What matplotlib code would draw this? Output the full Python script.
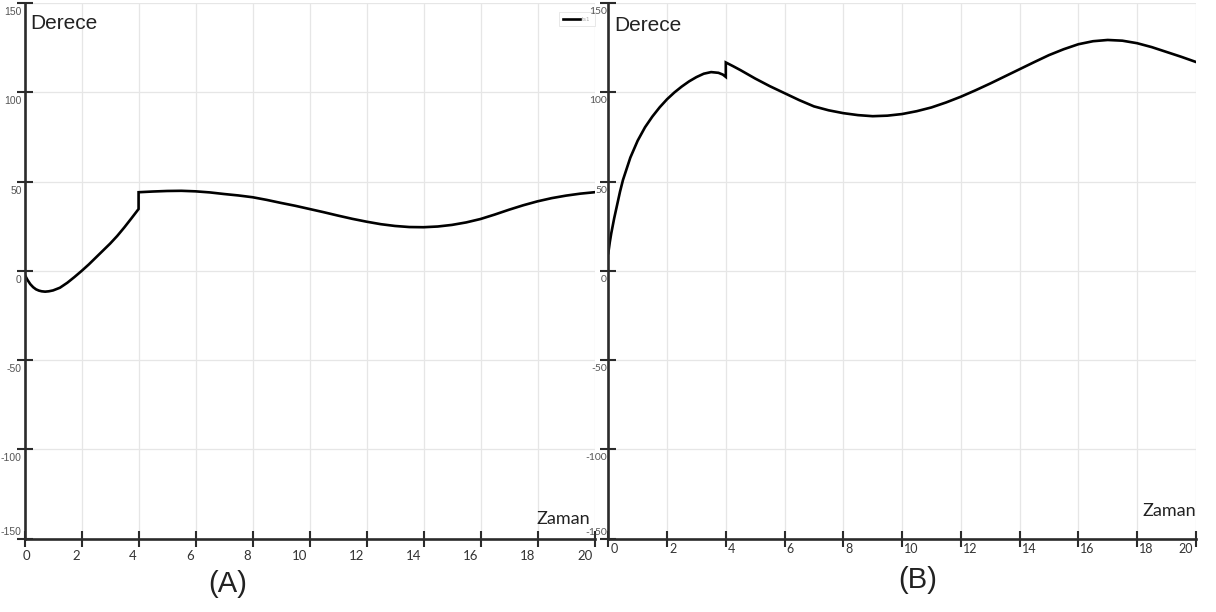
import matplotlib
matplotlib.use("Agg")
import matplotlib.pyplot as plt
import matplotlib.transforms as mtransforms
from matplotlib import font_manager

# ---- data -------------------------------------------------------------
# Panel A: angle (degrees) over time, with a jump at t = 4
time_a = [0, 0.1, 0.2, 0.3, 0.4, 0.5, 0.6, 0.72, 0.85, 1.0, 1.24, 1.5, 1.75,
          2.0, 2.25, 2.5, 2.75, 3.0, 3.25, 3.5, 3.75, 4,
          4, 4.5, 5, 5.5, 6, 6.5, 7, 7.5, 8, 8.5, 9, 9.5, 10, 10.5,
          11, 11.5, 12, 12.5, 13, 13.5, 14, 14.5, 15, 15.5, 16, 16.5,
          17, 17.5, 18, 18.5, 19, 19.5, 20]
angle_a = [-2, -5, -7.4, -9.1, -10.3, -11.0, -11.4, -11.6, -11.4, -10.9, -9.4, -6.6, -3.4,
           0.0, 3.6, 7.5, 11.4, 15.3, 19.6, 24.4, 29.5, 34.7,
           44.1, 44.5, 44.8, 44.9, 44.6, 44.0, 43.1, 42.3, 41.3, 39.8, 38.1, 36.5,
           34.7, 32.9, 31.0, 29.2, 27.6, 26.2, 25.2, 24.6, 24.5, 24.9, 25.8, 27.2,
           29.1, 31.6, 34.3, 36.8, 39.0, 40.8, 42.2, 43.3, 44.1]

# Panel B: angle (degrees) over time, with a jump at t = 4
time_b = [0, 0.05, 0.1, 0.2, 0.3, 0.4, 0.5, 0.75, 1.0, 1.25, 1.5, 1.75, 2.0,
          2.25, 2.5, 2.75, 3.0, 3.25, 3.5, 3.75, 3.9, 4,
          4, 4.25, 4.5, 5, 5.5, 6, 6.5, 7, 7.5, 8, 8.5, 9, 9.5, 10, 10.5,
          11, 11.5, 12, 12.5, 13, 13.5, 14, 14.5, 15, 15.5, 16, 16.5,
          17, 17.5, 18, 18.5, 19, 19.5, 20]
angle_b = [10, 16, 21, 29.5, 37, 44.5, 51, 63.5, 73, 80.5, 86.5, 91.7, 96.2,
           100, 103.3, 106.2, 108.6, 110.5, 111.4, 111.0, 110.0, 108.7,
           116.8, 114.7, 112.5, 107.8, 103.5, 99.6, 95.7, 92.2, 90.0, 88.4, 87.3, 86.7, 87.0,
           87.9, 89.5, 91.6, 94.4, 97.6, 101.2, 105.0, 109.0, 113.0, 117.0, 120.9,
           124.2, 127.0, 128.7, 129.4, 129.0, 127.6, 125.4, 122.7, 120.0, 117.1]

x_ticks = [0, 2, 4, 6, 8, 10, 12, 14, 16, 18, 20]
y_ticks = [-150, -100, -50, 0, 50, 100, 150]
series_label = "ts1"
y_title = "Derece"
x_title = "Zaman"
panel_names = ["(A)", "(B)"]

# ---- fonts ------------------------------------------------------------
installed = {f.name for f in font_manager.fontManager.ttflist}
narrow = "Liberation Sans Narrow" if "Liberation Sans Narrow" in installed else "Liberation Sans"
regular = "Lato" if "Lato" in installed else "DejaVu Sans"

AXIS_DARK = "#2b2b2b"
GRID = "#e6e6e6"
LABEL_GRAY = "#555555"

fig = plt.figure(figsize=(12.16, 6.12), dpi=100)
W, H = 1216, 612


def axes_at(x0, x1, ytop, ybot):
    return fig.add_axes([x0 / W, (H - ybot) / H, (x1 - x0) / W, (ybot - ytop) / H])


ax_a = axes_at(24.6, 594.5, 3.2, 538.7)
ax_b = axes_at(608.3, 1195.8, 3.2, 538.7)


def px(dx, dy):
    return mtransforms.ScaledTranslation(dx / 100, dy / 100, fig.dpi_scale_trans)


def style(ax, t, v, xlab_side, ylab_font, ylab_pad):
    ax.plot(t, v, color="black", lw=1.9, solid_joinstyle="miter", zorder=3)
    ax.set_xlim(0, 20)
    ax.set_ylim(-150, 150)
    ax.set_xticks(x_ticks)
    ax.set_yticks(y_ticks)
    ax.set_xticklabels([str(v) for v in x_ticks])
    ax.set_yticklabels([str(v) for v in y_ticks])
    ax.grid(True, color=GRID, lw=0.9, zorder=0)
    ax.set_axisbelow(True)
    for s in ("top", "right"):
        ax.spines[s].set_visible(False)
    for s in ("left", "bottom"):
        ax.spines[s].set_color(AXIS_DARK)
        ax.spines[s].set_linewidth(1.9)
        ax.spines[s].set_zorder(4)
    ax.tick_params(axis="both", which="major", direction="inout",
                   length=12, width=1.5, color=AXIS_DARK)
    for tk in ax.xaxis.get_major_ticks() + ax.yaxis.get_major_ticks():
        tk.tick1line.set_clip_on(False)

    # x tick labels
    if xlab_side == "left":
        ax.tick_params(axis="x", pad=2, labelsize=9.5, labelcolor="#333333")
        for lab in ax.get_xticklabels():
            lab.set_fontfamily(regular)
            lab.set_ha("left" if lab.get_text() == "0" else "right")
            lab.set_transform(lab.get_transform() + px(-2, 0))
    else:
        ax.tick_params(axis="x", pad=-3, labelsize=9, labelcolor="#333333")
        for lab in ax.get_xticklabels():
            lab.set_fontfamily(regular)
            if lab.get_text() == "20":
                lab.set_ha("right")
                lab.set_transform(lab.get_transform() + px(-3, 0))
            else:
                lab.set_ha("left")
                lab.set_transform(lab.get_transform() + px(2, 0))

    # y tick labels sit just under each tick mark
    ax.tick_params(axis="y", pad=ylab_pad, labelsize=7.5, labelcolor=LABEL_GRAY)
    for lab in ax.get_yticklabels():
        lab.set_fontfamily(ylab_font)
        if lab.get_text() == "-150":
            lab.set_va("bottom")
            lab.set_transform(lab.get_transform() + px(0, 2))
        else:
            lab.set_va("top")
            lab.set_transform(lab.get_transform() + px(0, -4))


style(ax_a, time_a, angle_a, "left", narrow, -4)
style(ax_b, time_b, angle_b, "right", regular, -5)
ax_a.lines[0].set_label(series_label)

# axis titles
ax_a.text(6 / 570, 0.980, y_title, transform=ax_a.transAxes, ha="left", va="top",
          fontsize=15, family=narrow, color="#222222")
ax_b.text(6 / 587, 0.977, y_title, transform=ax_b.transAxes, ha="left", va="top",
          fontsize=15, family=narrow, color="#222222")
ax_a.text(0.993, 12 / 535, x_title, transform=ax_a.transAxes, ha="right", va="bottom",
          fontsize=13, family=regular, color="#222222")
ax_b.text(1.0, 20 / 535, x_title, transform=ax_b.transAxes, ha="right", va="bottom",
          fontsize=13, family=regular, color="#222222")

# small legend in the upper-right corner of panel A
leg = ax_a.legend(loc="upper right", bbox_to_anchor=(1.0, 1 - 9 / 535),
                  fontsize=4, handlelength=3.0, handletextpad=0.3,
                  borderpad=0.8, borderaxespad=0.0, frameon=True, fancybox=False,
                  labelcolor="#aaaaaa")
leg.get_frame().set_edgecolor("#dddddd")
leg.get_frame().set_linewidth(0.6)

# panel captions
fig.text(228 / W, 1 - 584 / H, panel_names[0], ha="center", va="center",
         fontsize=21, family=narrow, color="#222222")
fig.text(918 / W, 1 - 580 / H, panel_names[1], ha="center", va="center",
         fontsize=21, family=narrow, color="#222222")

fig.savefig("out.png", dpi=100, facecolor="white")
